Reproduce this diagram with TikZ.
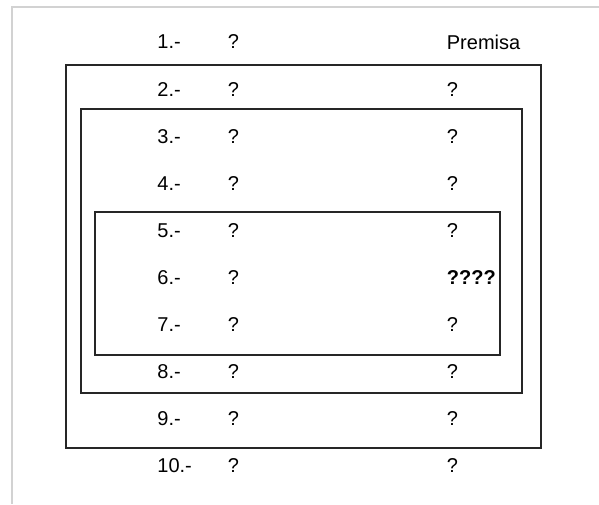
\documentclass[tikz,border=0pt]{standalone}
\usepackage{fontspec}
\setmainfont{Liberation Sans}
\usepackage{tikz}
\usetikzlibrary{positioning}

\begin{document}
\begin{tikzpicture}[x=0.5pt, y=-0.5pt, auto,
        numtext/.style={anchor=west, inner sep=0pt, font=\normalsize},
        formtext/.style={anchor=center, inner sep=0pt, font=\normalsize},
        justtext/.style={anchor=west, inner sep=0pt, font=\normalsize},
        boxline/.style={draw=black!85, line width=0.7pt}]
    \useasboundingbox (0,0) rectangle (599,504);
    \fill[gray!35] (10.5,5.5) rectangle (599,504);% the frame
    \fill[white] (12.5,7.5) rectangle (599,504);
    % rows of the proof
    \foreach \n in {1,...,10}{
        \node[numtext]  (num\n)  at (157, 42+47.1*\n-47.1) {\n.-};
        \node[formtext] (form\n) at (233.5, 42+47.1*\n-47.1) {?};
    }
    \node[justtext] (just1) at (446.5, 42) {Premisa};
    \foreach \n in {2,3,4,5,7,8,9,10}{
        \node[justtext] (just\n) at (446.5, 42+47.1*\n-47.1) {?};
    }
    \node[justtext, font=\normalsize\bfseries] (just6) at (446.5, 277.5) {????};
    % the boxes
    \draw[boxline] (66,65) rectangle (541,448);
    \draw[boxline] (81,109) rectangle (522,393);
    \draw[boxline] (95,212) rectangle (500,355);
\end{tikzpicture}
\end{document}
